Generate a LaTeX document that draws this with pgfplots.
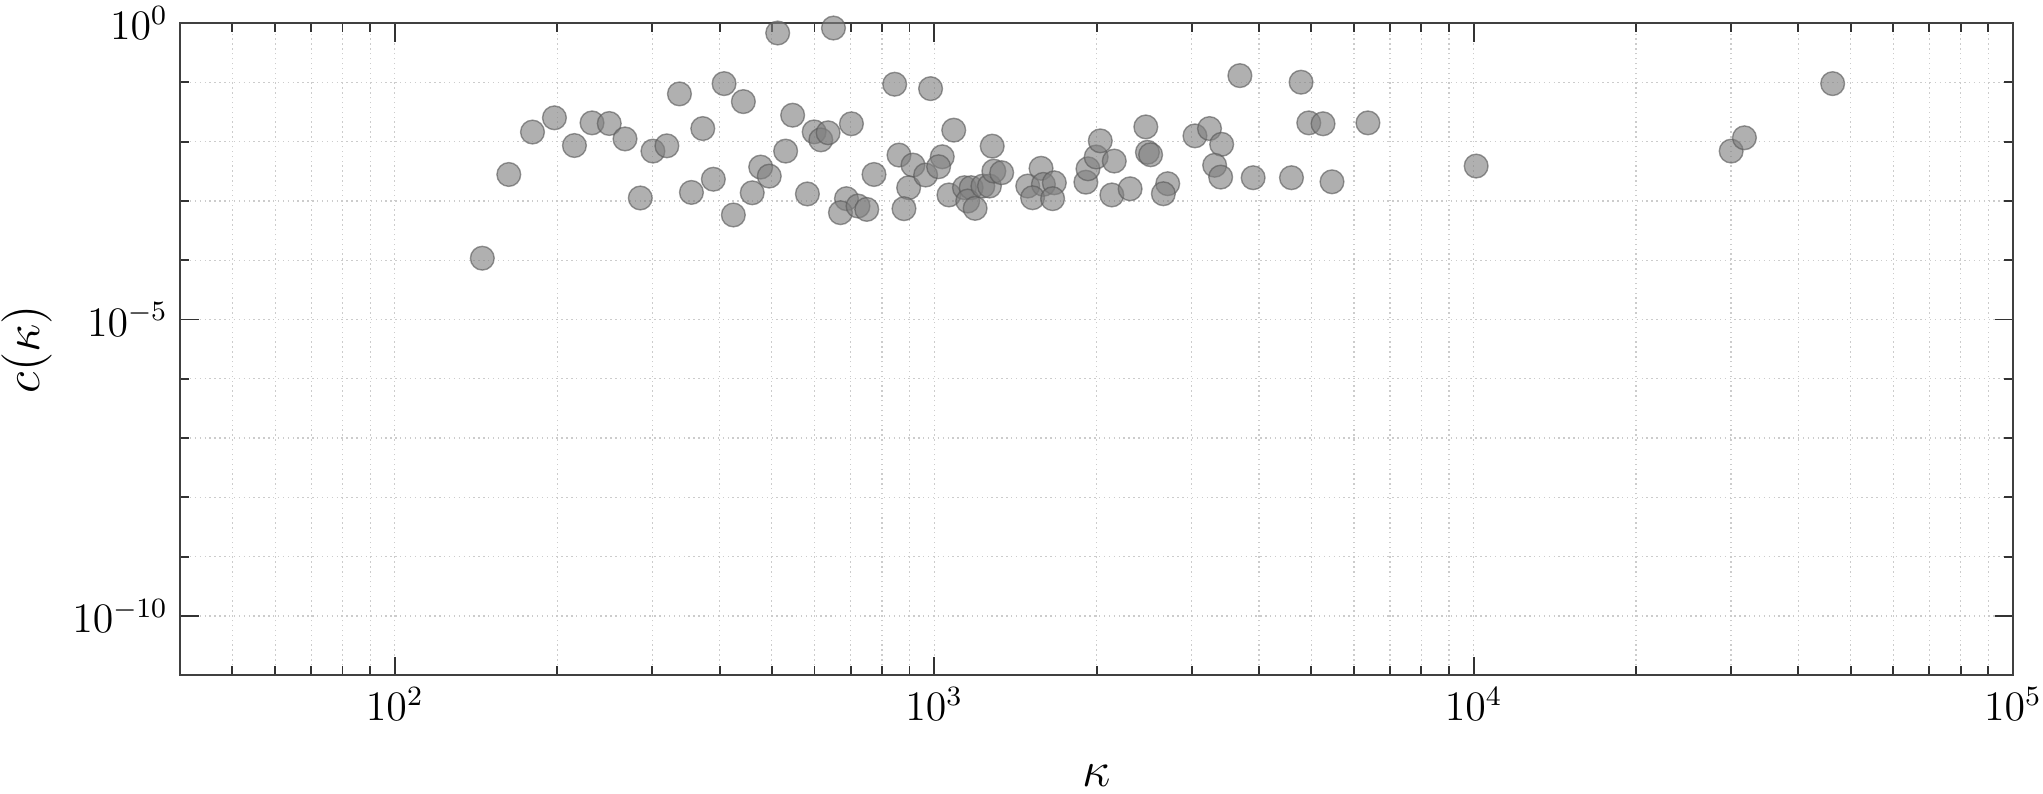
\documentclass[border=0pt]{standalone}
\usepackage{pgfplots}
\pgfplotsset{compat=1.18}
\pgfplotstableread{
x y
145.3 1.08e-4
162.7 2.79e-3
180.0 1.45e-2
197.7 2.52e-2
215.3 8.59e-3
232.1 2.07e-2
249.8 2.02e-2
267.2 1.11e-2
285.2 1.12e-3
301.0 6.92e-3
319.5 8.49e-3
337.1 6.38e-2
372.4 1.66e-2
354.8 1.39e-3
389.6 2.32e-3
407.8 9.51e-2
442.8 4.73e-2
424.3 5.79e-4
459.9 1.37e-3
476.8 3.72e-3
494.6 2.62e-3
512.7 0.679
530.4 6.92e-3
546.5 2.79e-2
582.0 1.31e-3
599.1 1.46e-2
616.4 1.07e-2
635.8 1.41e-2
650.6 0.824
687.6 1.09e-3
670.3 6.33e-4
702.4 2.00e-2
722.4 8.20e-4
749.9 7.19e-4
773.5 2.79e-3
844.8 9.29e-2
860.5 5.93e-3
913.4 4.02e-3
896.7 1.67e-3
879.0 7.39e-4
984.7 7.83e-2
1087 1.56e-2
964.1 2.73e-3
1035 5.55e-3
1019 3.77e-3
1065 1.26e-3
1138 1.67e-3
1171 1.67e-3
1154 9.95e-4
1191 7.48e-4
1231 1.78e-3
1266 1.78e-3
1281 8.39e-3
1290 3.18e-3
1334 2.99e-3
1491 1.78e-3
1578 3.55e-3
1594 1.90e-3
1670 2.02e-3
1522 1.13e-3
1658 1.09e-3
1911 2.07e-3
1928 3.48e-3
1997 5.51e-3
2032 1.03e-2
2157 4.70e-3
2135 1.26e-3
2308 1.60e-3
2468 1.77e-2
2485 6.61e-3
2519 6.00e-3
2710 1.95e-3
2660 1.32e-3
3044 1.25e-2
3239 1.66e-2
3412 9.01e-3
3311 3.99e-3
3397 2.52e-3
3688 0.1297
3903 2.46e-3
4596 2.46e-3
4788 0.1005
4948 2.07e-2
5259 2.00e-2
5464 2.10e-3
6370 2.07e-2
10110 3.87e-3
30030 6.92e-3
31780 1.16e-2
46310 9.51e-2
}\datatable
\begin{document}
\begin{tikzpicture}
\begin{loglogaxis}[
  scale only axis,
  width=525pt, height=186.8pt,
  xmin=40, xmax=1e5, ymin=1e-11, ymax=1,
  xtick={1e2,1e3,1e4,1e5},
  minor xtick={50,60,70,80,90,200,300,400,500,600,700,800,900,2000,3000,4000,5000,6000,7000,8000,9000,20000,30000,40000,50000,60000,70000,80000,90000},
  ytick={1,1e-5,1e-10},
  minor ytick={1e-1,1e-2,1e-3,1e-4,1e-6,1e-7,1e-8,1e-9},
  grid=both,
  major grid style={densely dotted, black!20, line width=0.35pt},
  minor grid style={densely dotted, black!20, line width=0.35pt},
  tick align=inside,
  major tick length=5.3pt, minor tick length=2.6pt,
  every tick/.style={black!80, line width=0.55pt},
  axis line style={black!75, line width=0.6pt},
  tick label style={font=\large},
  xlabel={$\kappa$}, ylabel={$c(\kappa)$},
  label style={font=\Large, inner sep=0pt},
  xlabel style={at={(axis description cs:0.5,-0.171)}, anchor=base},
  ylabel style={at={(axis description cs:-0.0975,0.5)}, anchor=north},
]
\addplot[only marks, mark=*, mark size=3.4pt,
  mark options={fill=black!50, draw=black!65, fill opacity=0.62, draw opacity=0.62, line width=0.4pt}]
  table[x=x, y=y] {\datatable};
\end{loglogaxis}
\pgfresetboundingbox
\useasboundingbox ([shift={(-51.6pt,-34pt)}]current axis.south west) rectangle ([shift={(8.6pt,6.6pt)}]current axis.north east);
\end{tikzpicture}
\end{document}
